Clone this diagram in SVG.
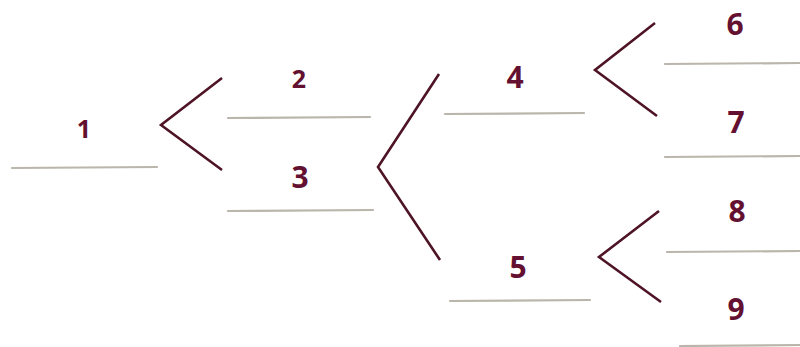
<svg xmlns="http://www.w3.org/2000/svg" width="800" height="347" viewBox="0 0 800 347">
<style>
.lbl{font-family:"Open Sans","Liberation Sans",sans-serif;font-weight:700;fill:#641131;text-anchor:middle;font-size:30px}
.sm{font-size:25px}
.blank{stroke:#a9a497;stroke-width:2.2;stroke-linecap:round;opacity:0.8}
.br{fill:none;stroke:#4e1426;stroke-width:2.6;stroke-linejoin:miter}
</style>
<rect width="800" height="347" fill="#ffffff"/>
<g id="n1"><text class="lbl sm" x="84" y="138">1</text><line class="blank" x1="12" y1="168" x2="157" y2="167"/></g>
<g id="n2"><text class="lbl sm" x="299" y="88">2</text><line class="blank" x1="228" y1="118" x2="370" y2="117"/></g>
<g id="n3"><text class="lbl" x="300" y="188">3</text><line class="blank" x1="228" y1="211" x2="373" y2="210"/></g>
<g id="n4"><text class="lbl" x="515" y="88">4</text><line class="blank" x1="445" y1="114" x2="584" y2="113"/></g>
<g id="n5"><text class="lbl" x="518" y="278">5</text><line class="blank" x1="450" y1="301" x2="590" y2="300"/></g>
<g id="n6"><text class="lbl" x="735" y="35">6</text><line class="blank" x1="665" y1="64" x2="800" y2="63"/></g>
<g id="n7"><text class="lbl" x="736" y="133">7</text><line class="blank" x1="665" y1="157" x2="800" y2="156"/></g>
<g id="n8"><text class="lbl" x="737" y="222">8</text><line class="blank" x1="667" y1="252" x2="800" y2="251"/></g>
<g id="n9"><text class="lbl" x="736" y="320">9</text><line class="blank" x1="680" y1="346" x2="800" y2="345"/></g>
<g id="connectors">
<polyline class="br" points="222,78 161,125 222,170"/>
<polyline class="br" points="439,74 378,167 440,260"/>
<polyline class="br" points="655,23 595,70 657,116"/>
<polyline class="br" points="659,211 599,257 661,302"/>
</g>
</svg>
